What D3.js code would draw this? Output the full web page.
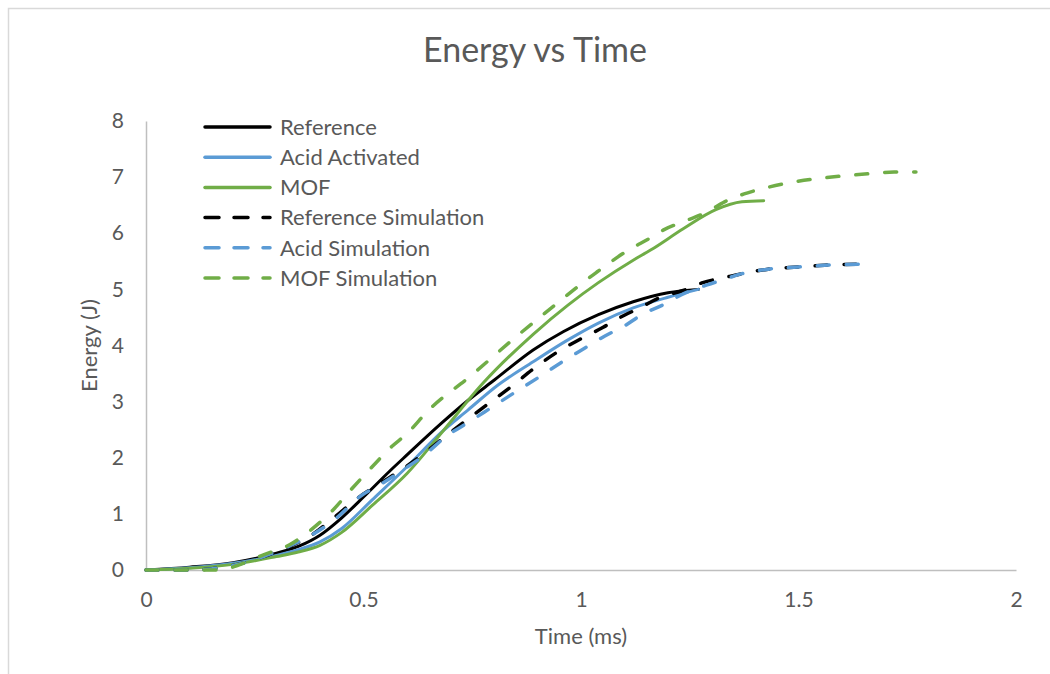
<!DOCTYPE html>
<html>
<head>
<meta charset="utf-8">
<script src="https://cdn.jsdelivr.net/npm/d3@7"></script>
<style>
  body { margin: 0; background: #fff; }
  svg text { font-family: Lato, "Noto Sans", sans-serif; fill: #595959; }
</style>
</head>
<body>
<figure id="chart" style="margin:0"></figure>
<script>
// ---- data ----
const seriesNames = ["Reference", "Acid Activated", "MOF", "Reference Simulation", "Acid Simulation", "MOF Simulation"];
const seriesColors = ["#000000", "#5b9bd5", "#70ad47", "#000000", "#5b9bd5", "#70ad47"];
const seriesDashed = [false, false, false, true, true, true];

const refTime = [0, 0.1, 0.2, 0.3, 0.35, 0.4, 0.45, 0.5, 0.56, 0.6, 0.68, 0.74, 0.8, 0.89, 0.96, 1.04, 1.12, 1.2, 1.27];
const refEnergy = [0, 0.05, 0.13, 0.3, 0.42, 0.62, 0.93, 1.3, 1.76, 2.05, 2.62, 3.02, 3.38, 3.92, 4.25, 4.55, 4.78, 4.94, 5.0];

const acidTime = [0, 0.1, 0.2, 0.3, 0.35, 0.4, 0.45, 0.52, 0.6, 0.68, 0.74, 0.81, 0.89, 0.97, 1.04, 1.12, 1.2, 1.27];
const acidEnergy = [0, 0.04, 0.12, 0.26, 0.36, 0.5, 0.74, 1.25, 1.84, 2.46, 2.85, 3.3, 3.71, 4.1, 4.4, 4.67, 4.86, 5.0];

const mofTime = [0, 0.1, 0.2, 0.3, 0.35, 0.4, 0.45, 0.52, 0.6, 0.68, 0.775, 0.89, 0.97, 1.04, 1.12, 1.16, 1.235, 1.31, 1.37, 1.42];
const mofEnergy = [0, 0.03, 0.1, 0.24, 0.32, 0.44, 0.67, 1.15, 1.72, 2.45, 3.33, 4.2, 4.72, 5.12, 5.52, 5.7, 6.08, 6.42, 6.56, 6.58];

const refSimTime = [0, 0.1, 0.15, 0.2, 0.27, 0.33, 0.38, 0.435, 0.49, 0.54, 0.59, 0.64, 0.683, 0.79, 0.845, 0.89, 0.945, 1.0, 1.05, 1.09, 1.135, 1.18, 1.235, 1.28, 1.33, 1.37, 1.43, 1.5, 1.56, 1.64];
const refSimEnergy = [0, 0, 0.02, 0.08, 0.24, 0.42, 0.62, 0.95, 1.3, 1.55, 1.8, 2.08, 2.35, 2.98, 3.3, 3.58, 3.88, 4.12, 4.32, 4.5, 4.67, 4.85, 4.98, 5.12, 5.21, 5.28, 5.36, 5.4, 5.43, 5.45];

const acidSimTime = [0, 0.1, 0.15, 0.2, 0.27, 0.33, 0.38, 0.44, 0.49, 0.54, 0.59, 0.64, 0.69, 0.745, 0.795, 0.845, 0.9, 0.955, 1.01, 1.055, 1.1, 1.14, 1.19, 1.23, 1.29, 1.33, 1.37, 1.43, 1.5, 1.56, 1.64];
const acidSimEnergy = [0, 0, 0.02, 0.08, 0.24, 0.43, 0.62, 0.94, 1.3, 1.53, 1.78, 2.05, 2.38, 2.65, 2.9, 3.15, 3.42, 3.7, 3.96, 4.17, 4.35, 4.55, 4.73, 4.9, 5.08, 5.18, 5.28, 5.36, 5.4, 5.43, 5.45];

const mofSimTime = [0, 0.1, 0.17, 0.21, 0.27, 0.33, 0.38, 0.43, 0.47, 0.52, 0.565, 0.6, 0.65, 0.745, 0.85, 0.94, 1.035, 1.105, 1.16, 1.19, 1.24, 1.29, 1.33, 1.375, 1.425, 1.48, 1.54, 1.6, 1.66, 1.72, 1.77];
const mofSimEnergy = [0, 0, 0, 0.08, 0.27, 0.45, 0.72, 1.07, 1.42, 1.84, 2.2, 2.43, 2.85, 3.45, 4.15, 4.72, 5.3, 5.68, 5.92, 6.06, 6.22, 6.38, 6.56, 6.7, 6.81, 6.9, 6.97, 7.02, 7.06, 7.09, 7.09];

const xTicks = [0, 0.5, 1, 1.5, 2];
const yTicks = [0, 1, 2, 3, 4, 5, 6, 7, 8];

const seriesTimes = [refTime, acidTime, mofTime, refSimTime, acidSimTime, mofSimTime];
const seriesEnergies = [refEnergy, acidEnergy, mofEnergy, refSimEnergy, acidSimEnergy, mofSimEnergy];

// ---- layout ----
const width = 1050;
const height = 674;
const plot = { left: 146, right: 1016, top: 121, bottom: 570 };

const svg = d3.select("figure#chart").append("svg")
  .attr("width", width)
  .attr("height", height);

// chart area border
svg.append("rect")
  .attr("x", 8.5).attr("y", 8.5)
  .attr("width", 1100).attr("height", 700)
  .attr("fill", "#fff")
  .attr("stroke", "#d9d9d9")
  .attr("stroke-width", 1.5);

const x = d3.scaleLinear().domain([0, 2]).range([plot.left, plot.right]);
const y = d3.scaleLinear().domain([0, 8]).range([plot.bottom, plot.top]);

// axes
const xAxis = svg.append("g")
  .attr("transform", "translate(0," + plot.bottom + ")")
  .call(d3.axisBottom(x).tickValues(xTicks).tickSize(0).tickPadding(22).tickFormat(d3.format("")));
const yAxis = svg.append("g")
  .attr("transform", "translate(" + plot.left + ",0)")
  .call(d3.axisLeft(y).tickValues(yTicks).tickSize(0).tickPadding(22));

[xAxis, yAxis].forEach(a => {
  a.select(".domain").attr("stroke", "#bfbfbf").attr("stroke-width", 1.5);
  a.selectAll("text").attr("font-size", "21px").style("font-family", "Lato, sans-serif").attr("fill", "#595959");
});

// lines
const line = d3.line()
  .x(d => x(d[0]))
  .y(d => y(d[1]))
  .curve(d3.curveMonotoneX);

seriesNames.forEach((name, i) => {
  const pts = seriesTimes[i].map((t, k) => [t, seriesEnergies[i][k]]);
  svg.append("path")
    .datum(pts)
    .attr("fill", "none")
    .attr("stroke", seriesColors[i])
    .attr("stroke-width", seriesDashed[i] ? 3.5 : 3)
    .attr("stroke-linecap", "round")
    .attr("stroke-dasharray", seriesDashed[i] ? "12,17" : null)
    .attr("d", line);
});

// title
svg.append("text")
  .attr("x", 535).attr("y", 62)
  .attr("text-anchor", "middle")
  .attr("font-size", "34px")
  .text("Energy vs Time");

// axis titles
svg.append("text")
  .attr("x", (plot.left + plot.right) / 2).attr("y", 644)
  .attr("text-anchor", "middle")
  .attr("font-size", "22px")
  .text("Time (ms)");

svg.append("text")
  .attr("transform", "translate(97," + (plot.top + plot.bottom) / 2 + ") rotate(-90)")
  .attr("text-anchor", "middle")
  .attr("font-size", "22px")
  .text("Energy (J)");

// legend
const legend = svg.append("g");
seriesNames.forEach((name, i) => {
  const ly = 127 + i * 30.2;
  legend.append("line")
    .attr("x1", 205).attr("x2", 270)
    .attr("y1", ly).attr("y2", ly)
    .attr("stroke", seriesColors[i])
    .attr("stroke-width", 3.5)
    .attr("stroke-linecap", "round")
    .attr("stroke-dasharray", seriesDashed[i] ? "14,15" : null);
  legend.append("text")
    .attr("x", 280).attr("y", ly)
    .attr("dy", "0.35em")
    .attr("font-size", "22px")
    .text(name);
});
</script>
</body>
</html>
